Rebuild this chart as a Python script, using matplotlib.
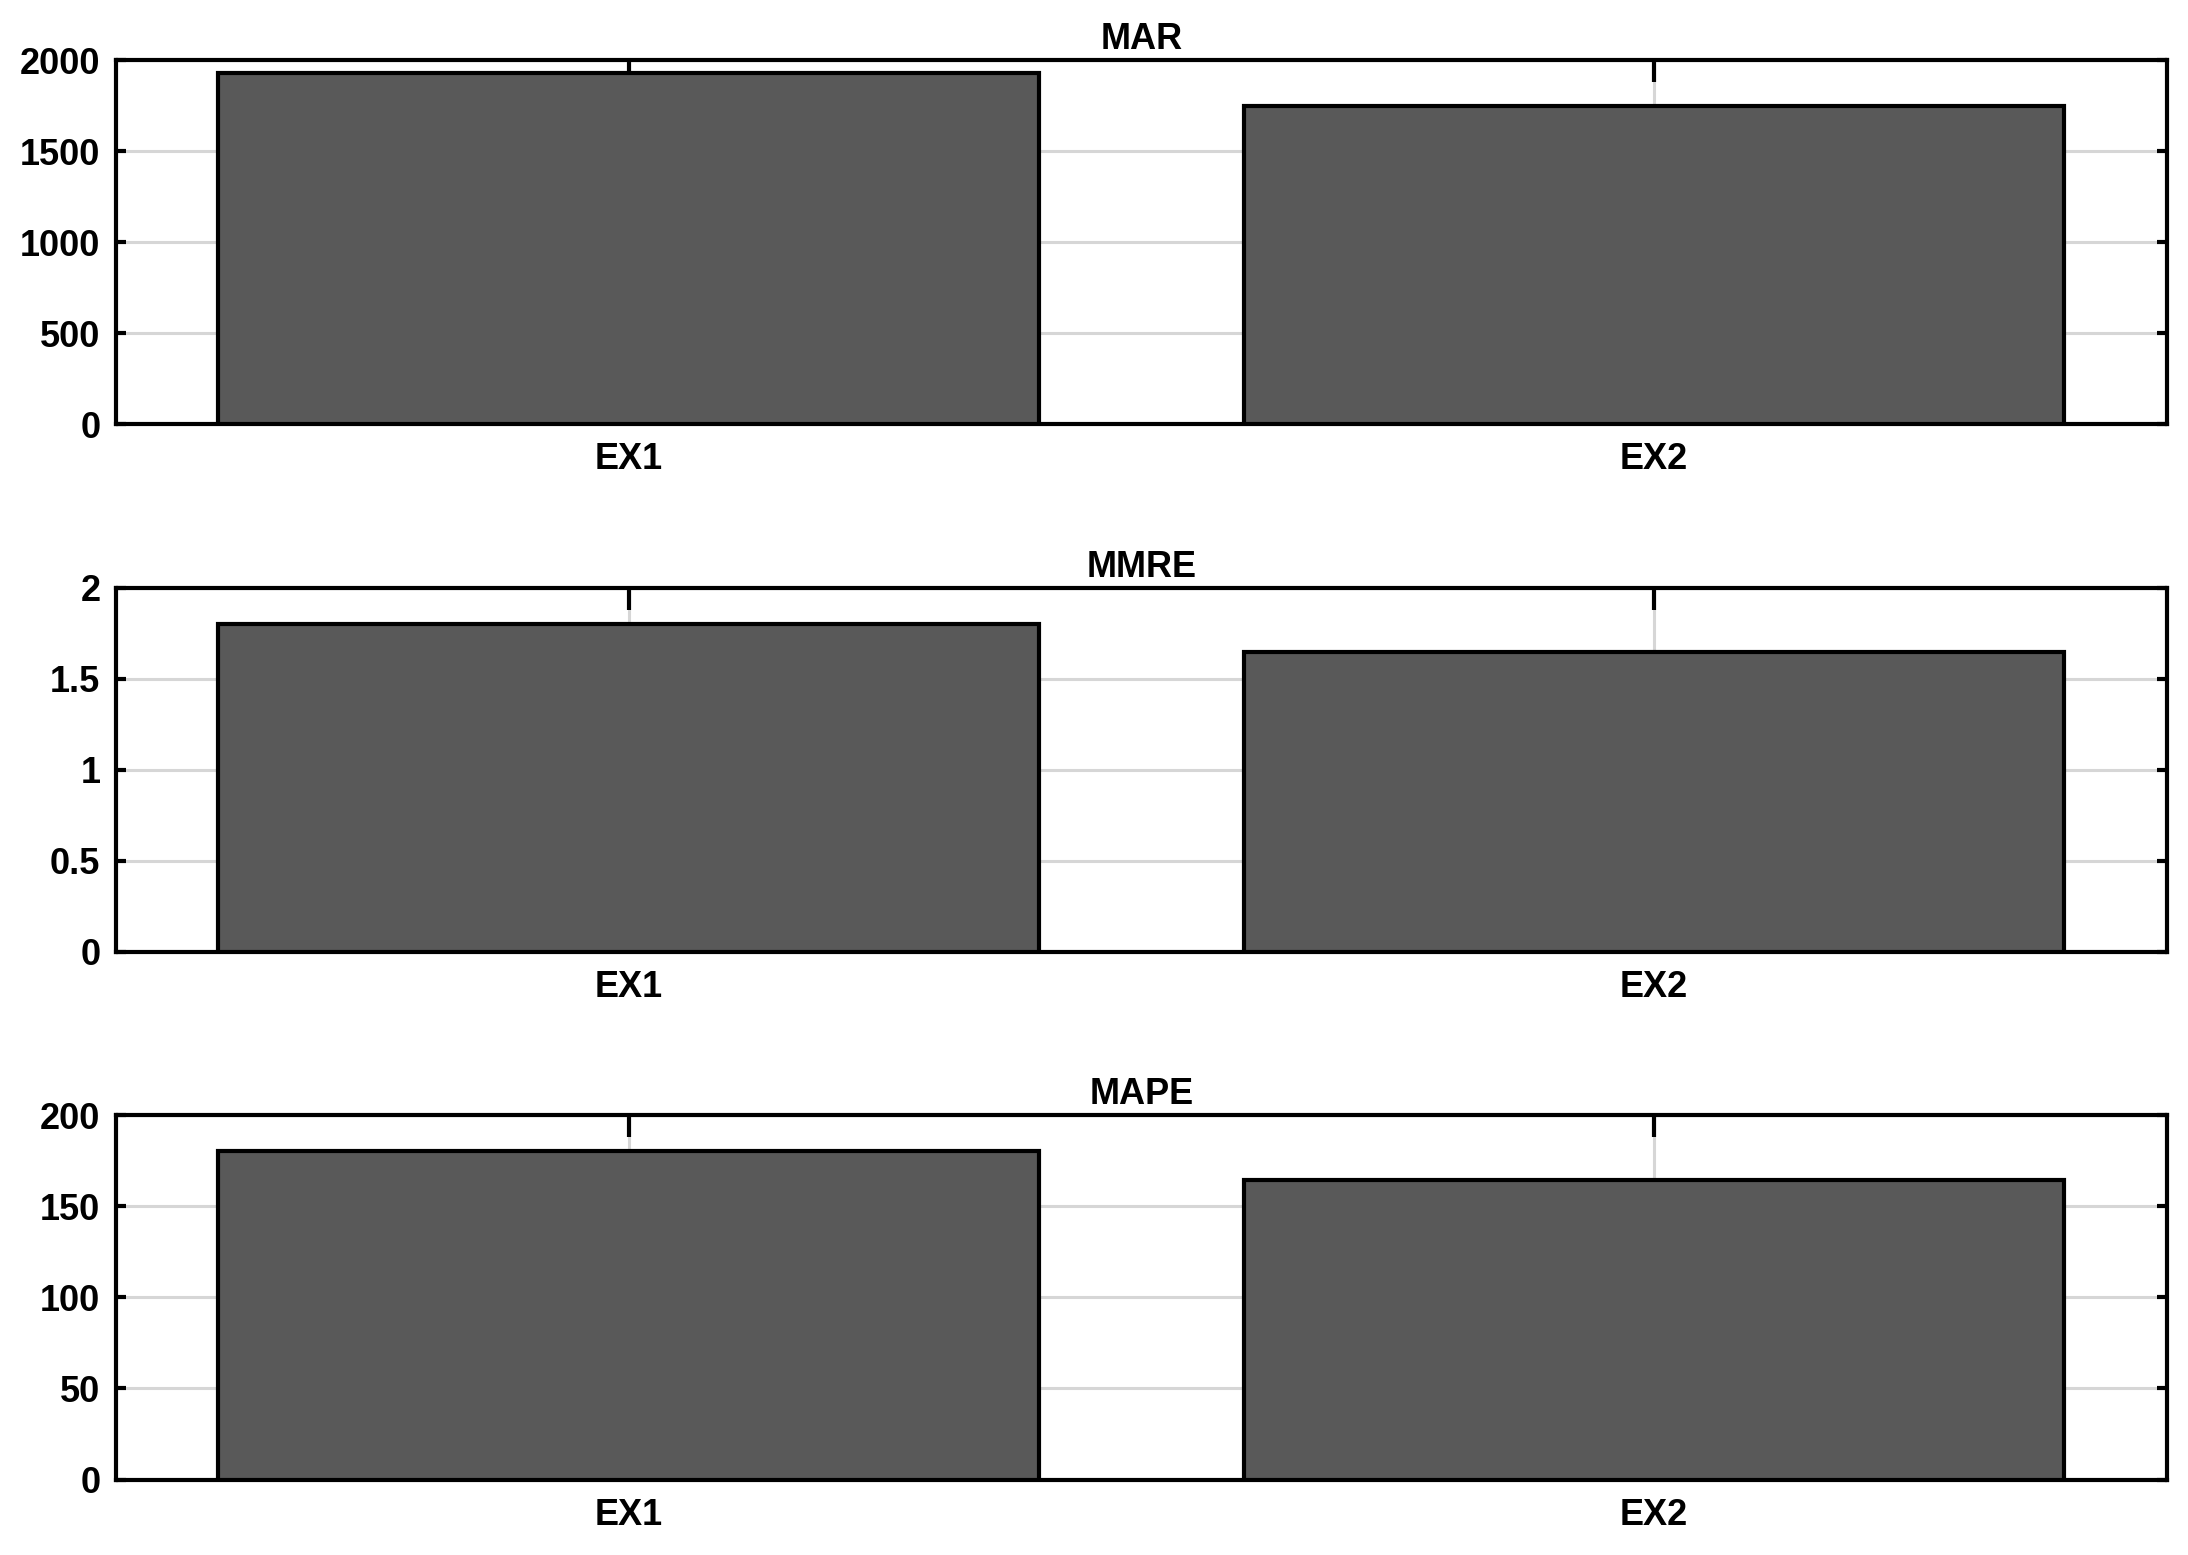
import matplotlib.pyplot as plt
import numpy as np

# Data
categories = ["EX1", "EX2"]
titles = ["MAR", "MMRE", "MAPE"]
mar = [1931, 1746]
mmre = [1.803, 1.647]
mape = [180.3, 164.5]
ylims = [2000, 2, 200]
yticks = [[0, 500, 1000, 1500, 2000],
          [0, 0.5, 1, 1.5, 2],
          [0, 50, 100, 150, 200]]
yticklabels = [["0", "500", "1000", "1500", "2000"],
               ["0", "0.5", "1", "1.5", "2"],
               ["0", "50", "100", "150", "200"]]

plt.rcParams['font.family'] = ['Liberation Sans', 'DejaVu Sans']
plt.rcParams['font.weight'] = 'bold'

fig = plt.figure(figsize=(21.88, 15.55), dpi=100)

# axes positions (left, bottom, width, height) in figure fractions
left, width, height = 0.0529, 0.9375, 0.2343
bottoms = [0.7271, 0.3878, 0.0485]

x = np.arange(1, len(categories) + 1)
for i, vals in enumerate([mar, mmre, mape]):
    ax = fig.add_axes([left, bottoms[i], width, height])
    ax.bar(x, vals, width=0.8, color="#595959", edgecolor="black",
           linewidth=3.0, zorder=3)
    ax.set_xlim(0.5, 2.5)
    ax.set_ylim(0, ylims[i])
    ax.set_xticks(x)
    ax.set_xticklabels(categories)
    ax.set_yticks(yticks[i])
    ax.set_yticklabels(yticklabels[i])
    ax.grid(True, color="#d6d6d6", linewidth=2.2, zorder=0)
    ax.set_axisbelow(True)
    ax.tick_params(axis='both', direction='in', top=True, right=True,
                   labelsize=26, width=3.0, color='black')
    ax.tick_params(axis='x', length=16, pad=13)
    ax.tick_params(axis='y', length=7, pad=11)
    for s in ax.spines.values():
        s.set_linewidth(3.0)
    ax.set_title(titles[i], fontsize=26, fontweight='bold', pad=8)

plt.savefig("out.png", dpi=100)
